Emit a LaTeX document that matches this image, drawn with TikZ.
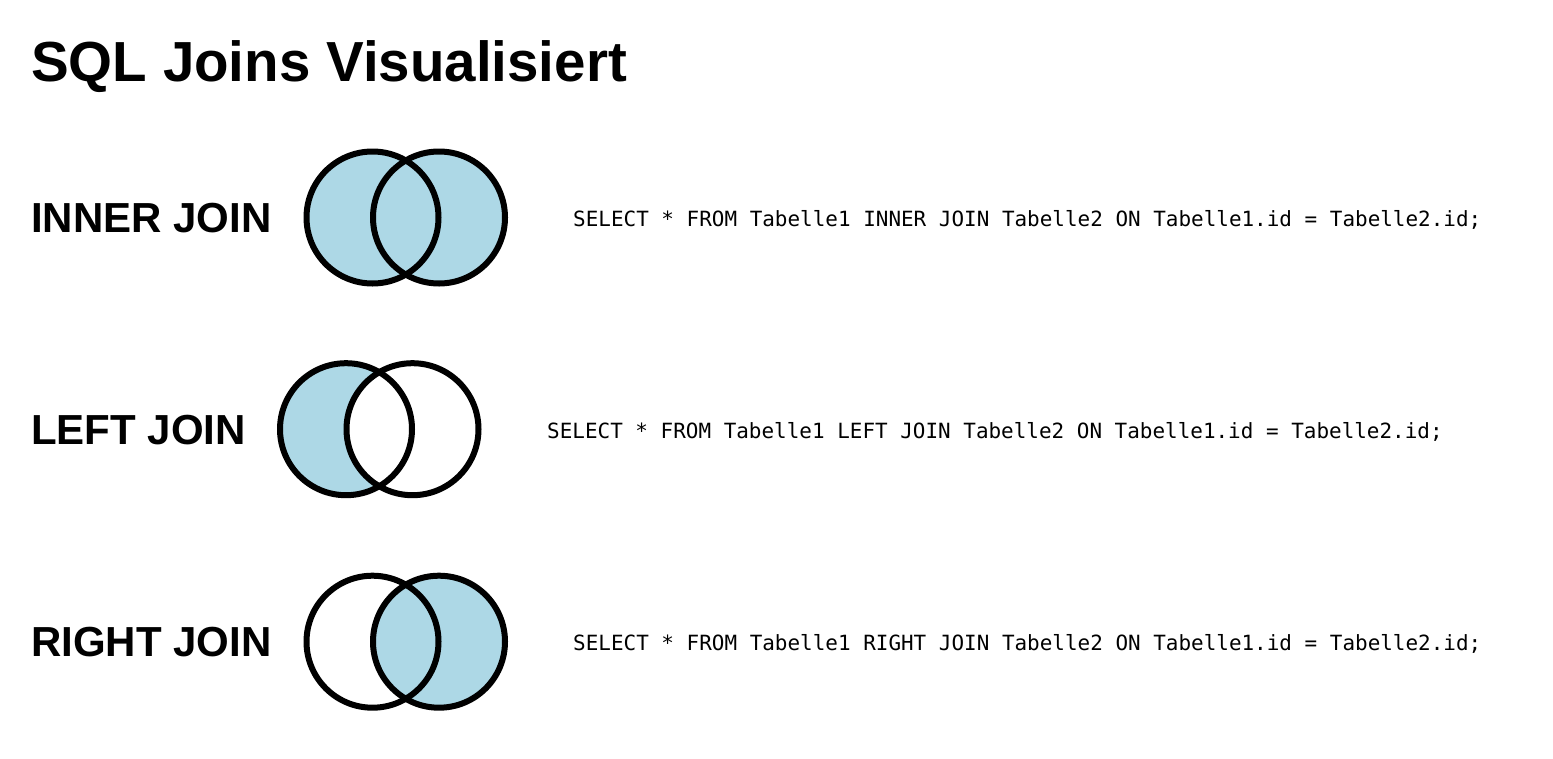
\documentclass[tikz,border=0pt]{standalone}
\usepackage{fontspec}
\setmainfont{Liberation Sans}
\newfontfamily\codefont{DejaVu Sans Mono}
\definecolor{joinblue}{HTML}{ADD8E6}
\begin{document}
\begin{tikzpicture}[x=1pt,y=-1pt,
  titletext/.style={anchor=base west,inner sep=0pt,font=\fontsize{56.5}{60}\selectfont\bfseries},
  jointext/.style={anchor=base west,inner sep=0pt,font=\fontsize{42}{46}\selectfont\bfseries},
  codetext/.style={anchor=base west,inner sep=0pt,font=\codefont\fontsize{20.95}{24}\selectfont},
  ring/.style={draw=black,line width=6pt}]
\useasboundingbox[fill=white] (0,0) rectangle (1553,758);
\def\R{66}
% title
\node[titletext] (title) at (31,81) {SQL Joins Visualisiert};
% INNER JOIN
\node[jointext] (innerlbl) at (31,232) {INNER JOIN};
\fill[joinblue] (372.5,217.5) circle (\R);
\fill[joinblue] (439,217.5) circle (\R);
\draw[ring] (372.5,217.5) circle (\R);
\draw[ring] (439,217.5) circle (\R);
\node[codetext] (innercode) at (573,226) {SELECT * FROM Tabelle1 INNER JOIN Tabelle2 ON Tabelle1.id = Tabelle2.id;};
% LEFT JOIN
\node[jointext] (leftlbl) at (31,444) {LEFT JOIN};
\fill[joinblue] (346,429.2) circle (\R);
\fill[white] (412.5,429.2) circle (\R);
\draw[ring] (346,429.2) circle (\R);
\draw[ring] (412.5,429.2) circle (\R);
\node[codetext] (leftcode) at (547,438) {SELECT * FROM Tabelle1 LEFT JOIN Tabelle2 ON Tabelle1.id = Tabelle2.id;};
% RIGHT JOIN
\node[jointext] (rightlbl) at (31,656) {RIGHT JOIN};
\fill[joinblue] (439,641.7) circle (\R);
\draw[ring] (372.5,641.7) circle (\R);
\draw[ring] (439,641.7) circle (\R);
\node[codetext] (rightcode) at (573,650) {SELECT * FROM Tabelle1 RIGHT JOIN Tabelle2 ON Tabelle1.id = Tabelle2.id;};
\end{tikzpicture}
\end{document}
